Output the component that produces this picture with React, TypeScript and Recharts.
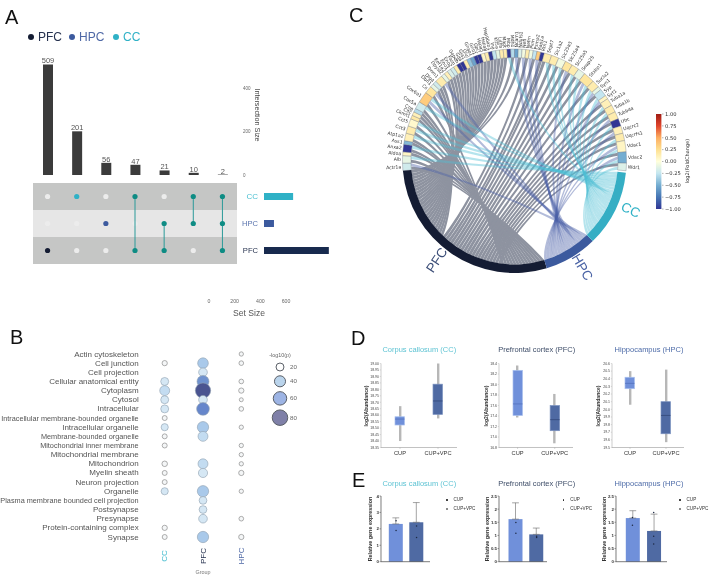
import React from 'react';
import {
  Bar, BarChart, Cell, ComposedChart, ErrorBar, LabelList, Line, LineChart, Pie, PieChart,
  ReferenceArea, Scatter, ScatterChart, XAxis, YAxis,
} from 'recharts';

const SANS = '"Liberation Sans", Arial, sans-serif';
const DEJA = '"DejaVu Sans", sans-serif';

const PFC_COLOR = '#141C33';
const HPC_COLOR = '#3C5A9E';
const CC_COLOR = '#35AEC4';
const TEAL = '#0E8C84';
const CUP_COLOR = '#7090DA';
const VPC_COLOR = '#4F6AA3';

// panel A
const intersectionSizes = [509, 201, 56, 47, 21, 10, 2];
const intersectionMembers = ['P', 'C', 'H', 'CP', 'HP', 'CH', 'CHP'];
const setRows = ['CC', 'HPC', 'PFC'];
const setKeys = ['C', 'H', 'P'];
const setSizes = [260, 89, 579];
const setTicks = [0, 200, 400, 600];

// panel B
const terms = [
  'Actin cytoskeleton', 'Cell junction', 'Cell projection', 'Cellular anatomical entity', 'Cytoplasm',
  'Cytosol', 'Intracellular', 'Intracellular membrane-bounded organelle', 'Intracellular organelle',
  'Membrane-bounded organelle', 'Mitochondrial inner membrane', 'Mitochondrial membrane', 'Mitochondrion',
  'Myelin sheath', 'Neuron projection', 'Organelle', 'Plasma membrane bounded cell projection',
  'Postsynapse', 'Presynapse', 'Protein-containing complex', 'Synapse',
];
const squeezedTerms = [
  'Intracellular membrane-bounded organelle', 'Membrane-bounded organelle',
  'Mitochondrial inner membrane', 'Plasma membrane bounded cell projection',
];
const bubbleGroups = ['CC', 'PFC', 'HPC'];
const ccBubbles = [0, 8, 0, 20, 32, 20, 20, 7, 16, 7, 7, 0, 9, 7, 7, 16, 0, 0, 0, 8, 7];
const pfcBubbles = [0, 37, 24, 47, 78, 24, 53, 0, 42, 32, 0, 0, 32, 27, 0, 42, 19, 19, 24, 0, 42];
const hpcBubbles = [5, 6, 0, 6, 8, 4, 6, 0, 5, 0, 5, 5, 5, 8, 0, 5, 0, 0, 6, 0, 8];
const bubbleLegend = [20, 40, 60, 80];

// panel C
const geneNames = [
  'Actr1a', 'Alb', 'Aldoa', 'Anxa2', 'Ass1', 'Atp1a2', 'Cct3', 'Cct5', 'Ckmt1', 'Cltc', 'Cnp', 'Cox5a', 'Cox6a1',
  'Cs', 'Dbn1', 'Dlg4', 'Dnm1', 'Dpysl2', 'Eef1a2', 'Eno1', 'Eno2', 'Fasn', 'Gapdh', 'Gda', 'Gja1', 'Glul',
  'Gnao1', 'Gnb1', 'Gpi1', 'Hspa5', 'Hspa8', 'Hsp90ab1', 'Ina', 'Kif5a', 'Ldhb', 'Mapt', 'Mbp', 'Mdh1', 'Ncam1',
  'Ndufs1', 'Nefl', 'Nefm', 'Pkm', 'Psma2', 'Rap1a', 'Rtn1', 'Sept7', 'Slc1a2', 'Slc25a3', 'Slc25a4', 'Slc25a5',
  'Snap25', 'Stxbp1', 'Sucla2', 'Syn1', 'Syp', 'Syt1', 'Tuba1a', 'Tuba1b', 'Tubb4a', 'Ubc', 'Uqcrc2', 'Uqcrfs1',
  'Vdac1', 'Vdac2', 'Wdr1',
];
const geneFold = [
  -0.2, -0.1, 0.08, -1, -0.45, 0.12, 0.15, 0.05, 0.18, 0.12, -0.3, -0.2, 0.35,
  0.2, -0.1, -0.2, 0.15, -0.1, 0.12, -0.15, -0.2, 0.15, -1, -1, 0.15, -0.4,
  -0.55, -1, -1, 0.08, 0.15, -1, -0.25, -0.1, 0.15, 0.15, -1, -0.3, -0.55,
  -0.15, -0.05, 0.15, -0.05, -0.25, 0.35, -1, 0.15, 0.15, -0.05, 0.2, 0.15,
  -0.1, 0.2, 0.15, -0.1, -0.25, 0.08, 0.12, 0.15, 0.15, -1, 0.12, 0.15,
  0.08, -0.5, -0.15,
];
const geneSets = [
  'PH', 'PC', 'P', 'PC', 'P', 'PC', 'PC', 'PC', 'P', 'P', 'P', 'PC', 'PHC',
  'PH', 'P', 'P', 'PH', 'P', 'P', 'P', 'P', 'P', 'P', 'P', 'P', 'P',
  'P', 'P', 'P', 'P', 'P', 'P', 'P', 'P', 'P', 'P', 'C', 'P', 'H',
  'P', 'H', 'P', 'H', 'P', 'H', 'P', 'PC', 'PC', 'PC', 'PH', 'PC',
  'PC', 'PHC', 'PC', 'H', 'PC', 'H', 'PC', 'PC', 'PH', 'PC', 'PH', 'PC',
  'PHC', 'PHC', 'PC',
];
const foldStops = ['#313695', '#4575B4', '#74ADD1', '#C4E6F0', '#FFFFDC', '#FEE090', '#FDAE61', '#E0452C', '#A01C14'];
const foldTicks = [-1, -0.75, -0.5, -0.25, 0, 0.25, 0.5, 0.75, 1];

// panel D
const boxCC = [
  { name: 'CUP', whisker: [18.4, 18.67], box: [18.524, 18.588], median: 18.57 },
  { name: 'CUP+VPC', whisker: [18.575, 19.0], box: [18.606, 18.84], median: 18.71 },
];
const boxPFC = [
  { name: 'CUP', whisker: [17.37, 18.36], box: [17.41, 18.27], median: 17.63 },
  { name: 'CUP+VPC', whisker: [16.88, 17.82], box: [17.12, 17.6], median: 17.33 },
];
const boxHPC = [
  { name: 'CUP', whisker: [20.06, 20.5], box: [20.27, 20.42], median: 20.34 },
  { name: 'CUP+VPC', whisker: [19.57, 20.52], box: [19.68, 20.1], median: 19.92 },
];
const ticksCC = [18.35, 18.4, 18.45, 18.5, 18.55, 18.6, 18.65, 18.7, 18.75, 18.8, 18.85, 18.9, 18.95, 19.0];
const ticksPFC = [16.8, 17.0, 17.2, 17.4, 17.6, 17.8, 18.0, 18.2, 18.4];
const ticksHPC = [19.5, 19.6, 19.7, 19.8, 19.9, 20.0, 20.1, 20.2, 20.3, 20.4, 20.5, 20.6];

// panel E
const expCC = [
  { name: 'CUP', mean: 2.3, err: [0, 0.37], p1: 2.5, p2: 1.9 },
  { name: 'CUP+VPC', mean: 2.4, err: [0, 1.2], p1: 2.18, p2: 1.47 },
];
const expPFC = [
  { name: 'CUP', mean: 1.62, err: [0, 0.62], p1: 1.49, p2: 1.08 },
  { name: 'CUP+VPC', mean: 1.04, err: [0, 0.24], p1: 0.97, p2: 0.92 },
];
const expHPC = [
  { name: 'CUP', mean: 1.66, err: [0, 0.28], p1: 1.68, p2: 1.39 },
  { name: 'CUP+VPC', mean: 1.17, err: [0, 0.64], p1: 0.97, p2: 0.67, p3: 1.87 },
];
const expTicksCC = [0, 1, 2, 3, 4];
const expTicksOther = [0, 0.5, 1, 1.5, 2, 2.5];

const Pane = ({ x, y, children }: any) => (
  <div style={{ position: 'absolute', left: x, top: y }}>{children}</div>
);

// absolutely placed text, x/y is the centre unless anchor says otherwise
const Txt = ({ x, y, size, color = '#555', rot = 0, bold = false, anchor = 'middle', font = SANS, children }: any) => {
  const tx = anchor === 'middle' ? '-50%' : anchor === 'end' ? '-100%' : '0';
  return (
    <div
      style={{
        position: 'absolute', left: x, top: y, fontSize: size, color, fontFamily: font,
        fontWeight: bold ? 700 : 400, whiteSpace: 'nowrap', lineHeight: 1,
        transform: `translate(${tx}, -50%) rotate(${rot}deg)`,
      }}
    >
      {children}
    </div>
  );
};

const Dot = ({ x, y, r, color }: any) => (
  <div
    style={{
      position: 'absolute', left: x - r, top: y - r, width: r * 2, height: r * 2,
      borderRadius: '50%', background: color,
    }}
  />
);

/* ---------- panel A ---------- */
const barData = intersectionSizes.map((size, i) => ({ name: intersectionMembers[i], size }));

const dotColor = (members: string) => {
  if (members.length > 1) return TEAL;
  return members === 'P' ? PFC_COLOR : members === 'H' ? HPC_COLOR : '#2FB1C6';
};

const MatrixDot = ({ cx, cy, fill }: any) => <circle cx={cx} cy={cy} r={2.6} fill={fill} />;

const matrixBlank = intersectionMembers.flatMap((members, i) =>
  setKeys.map((key, row) => (members.includes(key) ? null : { x: i, y: row + 0.5 })).filter(Boolean),
);

const PanelA = () => (
  <>
    <Dot x={31} y={37} r={3.3} color={PFC_COLOR} />
    <Txt x={38} y={37} size={12} color="#26324F" anchor="start">PFC</Txt>
    <Dot x={72} y={37} r={3.3} color={HPC_COLOR} />
    <Txt x={79} y={37} size={12} color="#4F69A6" anchor="start">HPC</Txt>
    <Dot x={116} y={37} r={3.3} color="#2FB1C6" />
    <Txt x={123} y={37} size={12} color="#2FB1C6" anchor="start">CC</Txt>

    <Pane x={0} y={50}>
      <BarChart width={262} height={131} data={barData} margin={{ top: 12, left: 33, right: 0, bottom: 6 }}>
        <XAxis dataKey="name" hide />
        <YAxis
          orientation="right" width={25} domain={[0, 520]} ticks={[0, 200, 400]} interval={0} axisLine={false} tickLine={false}
          tickSize={0} tickMargin={6} tick={{ fontSize: 4.5, fill: '#666', fontFamily: SANS }}
        />
        <Bar dataKey="size" fill="#3B3B3B" barSize={10} isAnimationActive={false}>
          <LabelList dataKey="size" position="top" offset={1} style={{ fontSize: 7.5, fill: '#555', fontFamily: SANS }} />
        </Bar>
      </BarChart>
    </Pane>
    <Txt x={256.5} y={115} size={7.2} color="#444" rot={90}>Intersection Size</Txt>

    <Pane x={33} y={183}>
      <ScatterChart width={204} height={81} margin={{ top: 0, left: 0, right: 0, bottom: 0 }}>
        <XAxis type="number" dataKey="x" domain={[-0.5, 6.5]} hide />
        <YAxis type="number" dataKey="y" domain={[0, 3]} reversed hide />
        <ReferenceArea y1={0} y2={1} fill="#C5C6C5" fillOpacity={1} stroke="none" />
        <ReferenceArea y1={1} y2={2} fill="#E6E6E6" fillOpacity={1} stroke="none" />
        <ReferenceArea y1={2} y2={3} fill="#C5C6C5" fillOpacity={1} stroke="none" />
        <Scatter data={matrixBlank} fill="#ECECEC" shape={MatrixDot} isAnimationActive={false} />
        {intersectionMembers.map((members, i) => (
          <Scatter
            key={members}
            data={setKeys.map((key, row) => (members.includes(key) ? { x: i, y: row + 0.5 } : null)).filter(Boolean)}
            fill={dotColor(members)}
            line={members.length > 1 ? { stroke: '#2B9A99', strokeWidth: 1 } : false}
            shape={MatrixDot}
            isAnimationActive={false}
          />
        ))}
      </ScatterChart>
    </Pane>

    <Pane x={225} y={183}>
      <BarChart
        layout="vertical" width={110} height={81} margin={{ top: 0, left: 0, right: 0, bottom: 0 }}
        data={setRows.map((name, i) => ({ name, size: setSizes[i] }))}
      >
        <XAxis type="number" domain={[0, 634]} hide />
        <YAxis
          type="category" dataKey="name" width={39} axisLine={false} tickLine={false} tickSize={0} tickMargin={6}
          tick={({ x, y, payload }: any) => (
            <text
              x={x} y={y} dy={2.8} textAnchor="end" fontSize={payload.value === 'CC' ? 8 : 7.6} fontFamily={SANS}
              fill={payload.value === 'CC' ? '#4CC0D2' : payload.value === 'HPC' ? '#5A74AE' : '#26324F'}
            >
              {payload.value}
            </text>
          )}
        />
        <Bar dataKey="size" barSize={7} isAnimationActive={false}>
          <Cell fill="#2FB1C6" />
          <Cell fill={HPC_COLOR} />
          <Cell fill="#182A4E" />
        </Bar>
      </BarChart>
    </Pane>

    <Pane x={200} y={297}>
      <LineChart width={96} height={14} data={setTicks.map((v) => ({ v }))} margin={{ top: 0, left: 9, right: 10, bottom: 0 }}>
        <XAxis
          type="number" dataKey="v" domain={[0, 600]} ticks={setTicks} axisLine={false} tickLine={false}
          tickSize={0} tickMargin={2} height={14} tick={{ fontSize: 5.2, fill: '#666', fontFamily: SANS }}
        />
      </LineChart>
    </Pane>
    <Txt x={249} y={313} size={8.6} color="#555">Set Size</Txt>
  </>
);

/* ---------- panel B ---------- */
const bubbleRadius = (v: number) => Math.sqrt(1 + 0.74 * v);

const bubbleFill = (v: number) => {
  if (v < 12) return '#F4F6F7';
  if (v < 28) return '#D5E7F4';
  if (v < 35) return '#C3DCF1';
  if (v < 45) return '#A9C9EA';
  if (v < 50) return '#6F92CF';
  if (v < 70) return '#6686CB';
  return '#4A5490';
};

const bubbleRows = (values: number[], column: number) =>
  values.flatMap((v, row) => (v > 0 ? [{ col: column, row, v }] : []));

const Bubble = ({ cx, cy, payload }: any) => (
  <circle
    cx={cx} cy={cy} r={bubbleRadius(payload.v)} fill={bubbleFill(payload.v)}
    stroke={payload.v < 12 ? '#8C8C8C' : '#8FA0AE'} strokeWidth={payload.v < 12 ? 0.7 : 0.6}
  />
);

const legendFills = ['#FFFFFF', '#BAD4EC', '#9DB4E4', '#7F80A8'];

const BubbleLegend = () => {
  let y = 7;
  return (
    <svg width={44} height={90} style={{ position: 'absolute', left: 258, top: 360 }}>
      {bubbleLegend.map((v, i) => {
        const r = bubbleRadius(v);
        if (i > 0) y += bubbleRadius(bubbleLegend[i - 1]) + r + 4.8;
        return (
          <g key={v}>
            <circle cx={22} cy={y} r={r} fill={legendFills[i]} stroke="#5B6068" strokeWidth={1} />
            <text x={32} y={y + 2} fontSize={6.2} fill="#666" fontFamily={SANS}>{v}</text>
          </g>
        );
      })}
    </svg>
  );
};

const PanelB = () => (
  <>
    <Pane x={0} y={340}>
      <ScatterChart width={260} height={238} margin={{ top: 14, left: 0, right: 18.7, bottom: 0 }}>
        <XAxis
          type="number" dataKey="col" domain={[0, 2]} ticks={[0, 1, 2]} height={41} interval={0}
          axisLine={false} tickLine={false}
          tick={({ x, payload }: any) => (
            <text
              x={x} y={216} transform={`rotate(-90 ${x} 216)`} textAnchor="middle" dominantBaseline="central"
              fontSize={8} fontFamily={SANS}
              fill={payload.value === 0 ? '#3FBACD' : payload.value === 1 ? '#26324F' : '#4F69A6'}
            >
              {bubbleGroups[payload.value]}
            </text>
          )}
        />
        <YAxis
          type="number" dataKey="row" domain={[0, 20]} reversed ticks={terms.map((_, i) => i)} interval={0} width={164.7}
          axisLine={false} tickLine={false} tickSize={0} tickMargin={26}
          tick={({ x, y, payload }: any) => (
            <text
              x={x} y={y} dy={2.5} textAnchor="end" fill="#555" fontFamily={SANS}
              fontSize={squeezedTerms.includes(terms[payload.value]) ? 7.3 : 8}
            >
              {terms[payload.value]}
            </text>
          )}
        />
        {[ccBubbles, pfcBubbles, hpcBubbles].map((values, column) => (
          <Scatter key={column} data={bubbleRows(values, column)} shape={Bubble} isAnimationActive={false} />
        ))}
      </ScatterChart>
    </Pane>
    <Txt x={203} y={573} size={5.4} color="#777">Group</Txt>
    <Txt x={280} y={356} size={5.4} color="#666">-log10(p)</Txt>
    <BubbleLegend />
  </>
);

/* ---------- panel C ---------- */
const RING_CX = 174.5;
const RING_CY = 161;
const RING_OUT = 112;
const RING_IN = 103.5;
const GENE_START = 185;
const GENE_END = -5;
const GROUP_START = 185;
const GROUP_END = 354;

const foldColor = (v: number) => {
  const t = ((v + 1) / 2) * (foldStops.length - 1);
  const i = Math.min(Math.floor(t), foldStops.length - 2);
  const hex = (c: string, k: number) => parseInt(c.slice(1 + k * 2, 3 + k * 2), 16);
  const part = (k: number) => Math.round(hex(foldStops[i], k) + (hex(foldStops[i + 1], k) - hex(foldStops[i], k)) * (t - i));
  return `rgb(${part(0)},${part(1)},${part(2)})`;
};

const geneData = geneNames.map((name, i) => ({ name, links: geneSets[i].length, fold: geneFold[i] }));
const totalLinks = geneData.reduce((s, g) => s + g.links, 0);
const groupCounts = ['P', 'H', 'C'].map((k) => geneSets.filter((s) => s.includes(k)).length);
const groupData = [
  { name: 'PFC', links: groupCounts[0], fill: PFC_COLOR, text: '#3C4E78' },
  { name: 'HPC', links: groupCounts[1], fill: HPC_COLOR, text: '#4A63A5' },
  { name: 'CC', links: groupCounts[2], fill: CC_COLOR, text: '#2FB1C6' },
];

const polar = (a: number) => {
  const rad = (a * Math.PI) / 180;
  return [RING_CX + RING_IN * Math.cos(rad), RING_CY - RING_IN * Math.sin(rad)];
};

// bezier handles stop short of the pinch point, more so on the group side, so the fan stays solid there
const handle = (p: number[], cx: number, cy: number, k: number) => `${cx + (p[0] - cx) * k} ${cy + (p[1] - cy) * k}`;
const GENE_HANDLE = 0.4;
const GROUP_HANDLE = 0.72;

// order of the genes along the PFC arc: left genes, then the right side coming back, then the top ones
const pfcRank = (g: number) => (g <= 13 ? g : g >= 40 ? 13 + (geneSets.length - g) : 40 + g);

const buildRibbons = () => {
  const geneUnit = (GENE_START - GENE_END) / totalLinks;
  const groupUnit = (GROUP_END - GROUP_START) / totalLinks;
  const seen: Record<string, number> = { H: 0, C: 0 };
  const ribbons: { key: string; set: string; d: string }[] = [];
  let used = 0;
  let base = GROUP_START;
  const bases: Record<string, number> = {};
  ['P', 'H', 'C'].forEach((k, i) => {
    bases[k] = base;
    base += groupCounts[i] * groupUnit;
  });
  const pfcGenes = geneSets.flatMap((s, g) => (s.includes('P') ? [g] : [])).sort((a, b) => pfcRank(a) - pfcRank(b));
  geneSets.forEach((sets, g) => {
    const t = g / (geneSets.length - 1);
    sets.split('').forEach((set) => {
      const geneHi = GENE_START - used * geneUnit - 0.12;
      const geneLo = geneHi - geneUnit + 0.24;
      used += 1;
      const n = groupCounts['PHC'.indexOf(set)];
      const k = set === 'P' ? pfcGenes.indexOf(g) : seen[set]++;
      const groupLo = bases[set] + (n - k - 1) * groupUnit + 0.02;
      const groupHi = groupLo + groupUnit - 0.04;
      let c = [0, 0];
      if (set === 'P') c = [-52 + t * 67, 3 + t * 4];
      if (set === 'H') c = [2 + t * 16, 30];
      if (set === 'C') c = [8 + t * 36, 12 + t * 2];
      const cx = RING_CX + c[0];
      const cy = RING_CY + c[1];
      const a1 = polar(geneLo);
      const a2 = polar(geneHi);
      const b1 = polar(groupLo);
      const b2 = polar(groupHi);
      ribbons.push({
        key: `${g}-${set}`,
        set,
        d:
          `M${a1[0]} ${a1[1]}A${RING_IN} ${RING_IN} 0 0 0 ${a2[0]} ${a2[1]}` +
          `C${handle(a2, cx, cy, GENE_HANDLE)} ${handle(b1, cx, cy, GROUP_HANDLE)} ${b1[0]} ${b1[1]}` +
          `A${RING_IN} ${RING_IN} 0 0 0 ${b2[0]} ${b2[1]}` +
          `C${handle(b2, cx, cy, GROUP_HANDLE)} ${handle(a1, cx, cy, GENE_HANDLE)} ${a1[0]} ${a1[1]}Z`,
      });
    });
  });
  return ribbons;
};

const ribbons = buildRibbons();
const ribbonStyle: Record<string, any> = {
  P: { fill: '#8E93A0', fillOpacity: 1, stroke: 'none' },
  H: { fill: '#4A5FA8', fillOpacity: 0.42, stroke: 'none' },
  C: { fill: '#4FBFD4', fillOpacity: 0.42, stroke: 'none' },
};

const geneLabel = ({ cx, cy, midAngle, outerRadius, name }: any) => {
  const rad = (midAngle * Math.PI) / 180;
  const x = cx + (outerRadius + 1.5) * Math.cos(rad);
  const y = cy - (outerRadius + 1.5) * Math.sin(rad);
  const left = Math.cos(rad) < 0;
  const rot = left ? 180 - midAngle : -midAngle;
  return (
    <text
      x={x} y={y} transform={`rotate(${rot} ${x} ${y})`} textAnchor={left ? 'end' : 'start'}
      dominantBaseline="central" fontSize={4.6} fontFamily={DEJA} fill="#333"
    >
      {name}
    </text>
  );
};

const labelNudge: Record<string, number> = { PFC: -4, HPC: 2, CC: 3 };

const groupLabel = ({ cx, cy, midAngle, name, payload }: any) => {
  const rad = ((midAngle + labelNudge[name]) * Math.PI) / 180;
  const x = cx + 126 * Math.cos(rad);
  const y = cy - 126 * Math.sin(rad);
  const rot = Math.cos(rad) < 0 ? 180 - midAngle : -midAngle;
  return (
    <text
      x={x} y={y} transform={`rotate(${rot} ${x} ${y})`} textAnchor="middle" dominantBaseline="central"
      fontSize={13.4} fontFamily={SANS} fill={payload?.text ?? '#333'}
    >
      {name}
    </text>
  );
};

const PanelC = () => (
  <>
    <Pane x={340} y={0}>
      <PieChart width={312} height={330} margin={{ top: 0, left: 0, right: 0, bottom: 0 }}>
        <g>
          {['P', 'H', 'C'].map((set) =>
            ribbons.filter((r) => r.set === set).map((r) => <path key={r.key} d={r.d} {...ribbonStyle[set]} />),
          )}
        </g>
        <Pie
          data={geneData} dataKey="links" nameKey="name" cx={RING_CX} cy={RING_CY}
          innerRadius={RING_IN} outerRadius={RING_OUT} startAngle={GENE_START} endAngle={GENE_END}
          stroke="#6B7280" strokeWidth={0.35} label={geneLabel} labelLine={false} isAnimationActive={false}
        >
          {geneData.map((g) => <Cell key={g.name} fill={foldColor(g.fold)} />)}
        </Pie>
        <Pie
          data={groupData} dataKey="links" nameKey="name" cx={RING_CX} cy={RING_CY}
          innerRadius={RING_IN} outerRadius={RING_OUT} startAngle={GROUP_START} endAngle={GROUP_END}
          stroke="none" label={groupLabel} labelLine={false} isAnimationActive={false}
        >
          {groupData.map((g) => <Cell key={g.name} fill={g.fill} />)}
        </Pie>
      </PieChart>
    </Pane>

    <Pane x={640} y={104}>
      <BarChart width={50} height={115} data={[{ name: 'fold', span: [-1, 1] }]} margin={{ top: 10, left: 16, right: 0, bottom: 10 }}>
        <defs>
          <linearGradient id="foldGradient" x1="0" y1="1" x2="0" y2="0">
            {foldStops.map((c, i) => <stop key={c} offset={i / (foldStops.length - 1)} stopColor={c} />)}
          </linearGradient>
        </defs>
        <XAxis dataKey="name" hide />
        <YAxis
          orientation="right" width={28} domain={[-1, 1]} ticks={foldTicks} interval={0} axisLine={false}
          tickSize={1.5} tickMargin={1.5} tickLine={{ stroke: '#444', strokeWidth: 0.4 }}
          tickFormatter={(v: number) => v.toFixed(2).replace('-', '\u2212')}
          tick={{ fontSize: 5.2, fill: '#333', fontFamily: DEJA }}
        />
        <Bar dataKey="span" fill="url(#foldGradient)" barSize={6} isAnimationActive={false} />
      </BarChart>
    </Pane>
    <Txt x={687} y={161} size={5} color="#333" rot={-90} font={DEJA}>log2(FoldChange)</Txt>
  </>
);

/* ---------- panel D ---------- */
const BoxShape = ({ x, y, width, height, payload, index }: any) => {
  const [lo, hi] = payload.box;
  const my = y + (height * (hi - payload.median)) / (hi - lo);
  return (
    <g>
      <rect
        x={x} y={y} width={width} height={height} fill={index === 0 ? CUP_COLOR : VPC_COLOR}
        stroke={index === 0 ? '#A9C1EE' : '#7C93C0'} strokeWidth={0.7}
      />
      <line x1={x} x2={x + width} y1={my} y2={my} stroke={index === 0 ? '#4F6DB8' : '#2F4474'} strokeWidth={0.7} />
    </g>
  );
};

const BoxPanel = ({ data, ticks, axisX, right, digits }: any) => {
  const left = axisX - 14;
  const top = 355;
  return (
    <Pane x={left} y={top}>
      <BarChart width={right - left} height={105} data={data} margin={{ top: 8.5, left: 0, right: 0, bottom: 0 }}>
        <XAxis
          xAxisId="whisker" dataKey="name" height={12.5} tickSize={1.5} tickMargin={1.5} interval={0}
          axisLine={{ stroke: '#999', strokeWidth: 0.6 }} tickLine={{ stroke: '#999', strokeWidth: 0.4 }}
          tick={{ fontSize: 5.7, fill: '#333', fontFamily: SANS }}
        />
        <XAxis xAxisId="box" dataKey="name" height={0} hide />
        <YAxis
          width={14} domain={[ticks[0], ticks[ticks.length - 1]]} ticks={ticks} interval={0} tickSize={1.2} tickMargin={0.8}
          axisLine={{ stroke: '#999', strokeWidth: 0.5 }} tickLine={{ stroke: '#999', strokeWidth: 0.3 }}
          tickFormatter={(v: number) => v.toFixed(digits)}
          tick={{ fontSize: 3.5, fill: '#444', fontFamily: SANS }}
        />
        <Bar xAxisId="whisker" dataKey="whisker" fill="#B7B7B7" barSize={2.4} isAnimationActive={false} />
        <Bar xAxisId="box" dataKey="box" barSize={9.5} shape={BoxShape} isAnimationActive={false} />
      </BarChart>
    </Pane>
  );
};

const PanelD = () => (
  <>
    <Txt x={419.3} y={350} size={7.5} color="#5EC3D3">Corpus callosum (CC)</Txt>
    <Txt x={536.7} y={350} size={7.5} color="#3F4E69">Prefrontal cortex (PFC)</Txt>
    <Txt x={649} y={350} size={7.5} color="#4D6BA8">Hippocampus (HPC)</Txt>
    <BoxPanel data={boxCC} ticks={ticksCC} axisX={381} right={457} digits={2} />
    <BoxPanel data={boxPFC} ticks={ticksPFC} axisX={498.7} right={573} digits={1} />
    <BoxPanel data={boxHPC} ticks={ticksHPC} axisX={612} right={684} digits={1} />
    <Txt x={366} y={406} size={5} color="#333" rot={-90} bold>log2(Abundance)</Txt>
    <Txt x={486} y={406} size={5} color="#333" rot={-90} bold>log2(Abundance)</Txt>
    <Txt x={598} y={406} size={5} color="#333" rot={-90} bold>log2(Abundance)</Txt>
  </>
);

/* ---------- panel E ---------- */
const ExpPanel = ({ data, ticks, axisX, right, pad }: any) => {
  const left = axisX - 10;
  return (
    <Pane x={left} y={491}>
      <ComposedChart width={right - left} height={75} data={data} margin={{ top: 5, left: 0, right: 0, bottom: 0 }}>
        <XAxis
          dataKey="name" height={4.3} tick={false} tickSize={1.5} padding={pad}
          axisLine={{ stroke: '#444', strokeWidth: 0.7 }} tickLine={{ stroke: '#444', strokeWidth: 0.5 }}
        />
        <YAxis
          width={10} domain={[ticks[0], ticks[ticks.length - 1]]} ticks={ticks} interval={0} tickSize={1.5} tickMargin={0.5}
          axisLine={{ stroke: '#444', strokeWidth: 0.7 }} tickLine={{ stroke: '#444', strokeWidth: 0.5 }}
          tick={{ fontSize: 4.4, fill: '#333', fontFamily: SANS, fontWeight: 700 }}
        />
        <Bar dataKey="mean" barSize={14} isAnimationActive={false}>
          <Cell fill={CUP_COLOR} />
          <Cell fill={VPC_COLOR} />
          <ErrorBar dataKey="err" direction="y" width={3.4} stroke="#666" strokeWidth={0.6} isAnimationActive={false} />
        </Bar>
        {['p1', 'p2', 'p3'].map((key) => (
          <Line key={key} dataKey={key} stroke="none" dot={{ r: 0.75, fill: '#1E2A44', stroke: 'none' }} isAnimationActive={false} />
        ))}
      </ComposedChart>
    </Pane>
  );
};

const ExpLegend = ({ x }: any) => (
  <>
    <Dot x={x} y={500} r={0.7} color="#222" />
    <Txt x={x + 6.5} y={500} size={4.6} color="#333" anchor="start">CUP</Txt>
    <Dot x={x} y={509} r={0.7} color="#777" />
    <Txt x={x + 6.5} y={509} size={4.6} color="#333" anchor="start">CUP+VPC</Txt>
  </>
);

const PanelE = () => (
  <>
    <Txt x={419.3} y={484} size={7.5} color="#5EC3D3">Corpus callosum (CC)</Txt>
    <Txt x={536.7} y={484} size={7.5} color="#3F4E69">Prefrontal cortex (PFC)</Txt>
    <Txt x={649} y={484} size={7.5} color="#4D6BA8">Hippocampus (HPC)</Txt>
    <ExpPanel data={expCC} ticks={expTicksCC} axisX={380.7} right={430} pad={{ left: 4.8, right: 3.5 }} />
    <ExpPanel data={expPFC} ticks={expTicksOther} axisX={499} right={547} pad={{ left: 6.5, right: 0 }} />
    <ExpPanel data={expHPC} ticks={expTicksOther} axisX={615.7} right={667} pad={{ left: 5.8, right: 3 }} />
    <Txt x={371} y={529} size={5.4} color="#333" rot={-90} bold>Relative gene expression</Txt>
    <Txt x={487.7} y={529} size={5.4} color="#333" rot={-90} bold>Relative gene expression</Txt>
    <Txt x={605} y={529} size={5.4} color="#333" rot={-90} bold>Relative gene expression</Txt>
    <ExpLegend x={447} />
    <ExpLegend x={563.7} />
    <ExpLegend x={680} />
  </>
);

const App = () => (
  <div
    style={{
      position: 'absolute', left: 0, top: 0, width: 709, height: 578, background: '#fff', overflow: 'hidden',
      filter: 'blur(0.35px)',
    }}
  >
    <Txt x={5} y={16.5} size={20} color="#111" anchor="start">A</Txt>
    <Txt x={10} y={337} size={20} color="#111" anchor="start">B</Txt>
    <Txt x={349} y={15} size={20} color="#111" anchor="start">C</Txt>
    <Txt x={351} y={338} size={20} color="#111" anchor="start">D</Txt>
    <Txt x={352} y={480} size={20} color="#111" anchor="start">E</Txt>
    <PanelA />
    <PanelB />
    <PanelC />
    <PanelD />
    <PanelE />
  </div>
);

export default App;
